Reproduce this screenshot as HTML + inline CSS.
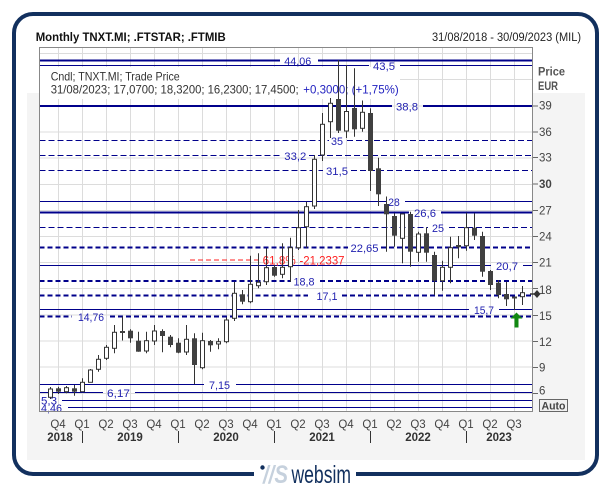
<!DOCTYPE html>
<html><head><meta charset="utf-8">
<style>
html,body{margin:0;padding:0;background:#fff;}
body{width:612px;height:488px;overflow:hidden;}
svg{display:block;font-family:"Liberation Sans",Arial,sans-serif;}
</style></head>
<body>
<svg width="612" height="488" viewBox="0 0 612 488" xmlns="http://www.w3.org/2000/svg">
<!-- frame -->
<rect x="0" y="0" width="612" height="488" fill="#fff"/>
<rect x="27" y="93" width="558" height="367" fill="#f4f4f4"/>
<rect x="14" y="14" width="583" height="460" rx="19" ry="19" fill="none" stroke="#12305e" stroke-width="4"/>
<rect x="254" y="468" width="102" height="12" fill="#fff"/>
<!-- logo -->
<circle cx="262.5" cy="467.5" r="2.2" fill="#12305e"/>
<text x="263" y="483" font-size="25" font-style="italic" font-weight="bold" fill="#c6d1dd" textLength="25" lengthAdjust="spacingAndGlyphs">//S</text>
<text x="291.5" y="483" font-size="25" fill="#12305e" textLength="59.5" lengthAdjust="spacingAndGlyphs">websim</text>

<!-- title -->
<text x="35.7" y="41" font-size="11.5" font-weight="bold" fill="#111" textLength="190" lengthAdjust="spacingAndGlyphs">Monthly TNXT.MI; .FTSTAR; .FTMIB</text>
<text x="432" y="41" font-size="11.5" fill="#222" textLength="149" lengthAdjust="spacingAndGlyphs">31/08/2018 - 30/09/2023 (MIL)</text>

<!-- plot background -->
<rect x="39.5" y="47.5" width="493" height="364" fill="#fff"/>
<!-- grid -->
<g stroke="#dcdcdc" stroke-width="1">
<line x1="58.5" y1="48" x2="58.5" y2="411"/><line x1="82.5" y1="48" x2="82.5" y2="411"/><line x1="106.5" y1="48" x2="106.5" y2="411"/><line x1="130.5" y1="48" x2="130.5" y2="411"/><line x1="154.5" y1="48" x2="154.5" y2="411"/><line x1="178.5" y1="48" x2="178.5" y2="411"/><line x1="202.5" y1="48" x2="202.5" y2="411"/><line x1="226.5" y1="48" x2="226.5" y2="411"/><line x1="250.5" y1="48" x2="250.5" y2="411"/><line x1="274.5" y1="48" x2="274.5" y2="411"/><line x1="298.5" y1="48" x2="298.5" y2="411"/><line x1="322.5" y1="48" x2="322.5" y2="411"/><line x1="346.5" y1="48" x2="346.5" y2="411"/><line x1="370.5" y1="48" x2="370.5" y2="411"/><line x1="394.5" y1="48" x2="394.5" y2="411"/><line x1="418.5" y1="48" x2="418.5" y2="411"/><line x1="442.5" y1="48" x2="442.5" y2="411"/><line x1="466.5" y1="48" x2="466.5" y2="411"/><line x1="490.5" y1="48" x2="490.5" y2="411"/><line x1="514.5" y1="48" x2="514.5" y2="411"/>
<line x1="40" y1="53.5" x2="532" y2="53.5"/><line x1="40" y1="79.5" x2="532" y2="79.5"/><line x1="40" y1="106" x2="532" y2="106"/><line x1="40" y1="132" x2="532" y2="132"/><line x1="40" y1="158" x2="532" y2="158"/><line x1="40" y1="184.5" x2="532" y2="184.5"/><line x1="40" y1="210.5" x2="532" y2="210.5"/><line x1="40" y1="236.5" x2="532" y2="236.5"/><line x1="40" y1="262.5" x2="532" y2="262.5"/><line x1="40" y1="288.5" x2="532" y2="288.5"/><line x1="40" y1="315" x2="532" y2="315"/><line x1="40" y1="341" x2="532" y2="341"/><line x1="40" y1="367" x2="532" y2="367"/><line x1="40" y1="393.5" x2="532" y2="393.5"/>
</g>
<!-- legend box -->
<rect x="40" y="67" width="360" height="32" fill="#fff"/>

<!-- level lines -->
<g stroke="#00008b" fill="none">
<path d="M39.5 60.5H280M318 60.5H532.5" stroke-width="2"/>
<path d="M39.5 65.5H369M400 65.5H532.5" stroke-width="1"/>
<path d="M39.5 106H392M423 106H532.5" stroke-width="2"/>
<path d="M39.5 140.5H329M347 140.5H532.5" stroke-width="1" stroke-dasharray="6,3"/>
<path d="M39.5 155.5H280M309 155.5H532.5" stroke-width="1" stroke-dasharray="6,3"/>
<path d="M39.5 170.5H323M351 170.5H532.5" stroke-width="1" stroke-dasharray="6,3"/>
<path d="M39.5 201.5H386M405 201.5H532.5" stroke-width="1"/>
<path d="M39.5 212.5H409M441 212.5H532.5" stroke-width="2"/>
<path d="M39.5 227.5H428M449 227.5H532.5" stroke-width="1" stroke-dasharray="6,3"/>
<path d="M39.5 247.5H348M381 247.5H532.5" stroke-width="2" stroke-dasharray="5,3"/>
<path d="M39.5 265.5H491M523 265.5H532.5" stroke-width="1"/>
<path d="M39.5 281H291M320 281H532.5" stroke-width="2" stroke-dasharray="5,3"/>
<path d="M39.5 295.5H308M342 295.5H532.5" stroke-width="2" stroke-dasharray="5,3"/>
<path d="M39.5 309.5H469M499 309.5H532.5" stroke-width="1"/>
<path d="M39.5 316.5H72M110 316.5H532.5" stroke-width="2" stroke-dasharray="5,3"/>
<path d="M39.5 384.5H204M236 384.5H532.5" stroke-width="1"/>
<path d="M39.5 392.5H103M135 392.5H532.5" stroke-width="1"/>
<path d="M62 400.5H532.5" stroke-width="1"/>
<path d="M68 407.5H532.5" stroke-width="1"/>
</g>
<path d="M190 260H262" stroke="#ff2020" stroke-width="1" stroke-dasharray="5,3" fill="none"/>

<!-- level labels -->
<g font-size="11" fill="#2222b0">
<text x="284.3" y="65" textLength="27" lengthAdjust="spacingAndGlyphs">44,06</text>
<text x="373" y="70" textLength="22" lengthAdjust="spacingAndGlyphs">43,5</text>
<text x="396" y="110.5" textLength="22" lengthAdjust="spacingAndGlyphs">38,8</text>
<text x="331" y="145" textLength="12" lengthAdjust="spacingAndGlyphs">35</text>
<text x="284.3" y="160" textLength="22" lengthAdjust="spacingAndGlyphs">33,2</text>
<text x="326" y="175" textLength="22" lengthAdjust="spacingAndGlyphs">31,5</text>
<text x="388.3" y="206" textLength="11.5" lengthAdjust="spacingAndGlyphs">28</text>
<text x="414" y="217" textLength="22" lengthAdjust="spacingAndGlyphs">26,6</text>
<text x="432" y="232" textLength="12" lengthAdjust="spacingAndGlyphs">25</text>
<text x="350.5" y="252" textLength="28" lengthAdjust="spacingAndGlyphs">22,65</text>
<text x="496" y="270" textLength="22" lengthAdjust="spacingAndGlyphs">20,7</text>
<text x="293.5" y="285.5" textLength="21" lengthAdjust="spacingAndGlyphs">18,8</text>
<text x="316.5" y="300" textLength="21" lengthAdjust="spacingAndGlyphs">17,1</text>
<text x="474" y="314" textLength="20" lengthAdjust="spacingAndGlyphs">15,7</text>
<text x="78" y="321" textLength="26" lengthAdjust="spacingAndGlyphs">14,76</text>
<text x="209" y="389" textLength="21" lengthAdjust="spacingAndGlyphs">7,15</text>
<text x="107" y="397" textLength="23" lengthAdjust="spacingAndGlyphs">6,17</text>
<text x="41" y="404.5" textLength="16" lengthAdjust="spacingAndGlyphs">5,3</text>
<text x="41" y="412" textLength="21" lengthAdjust="spacingAndGlyphs">4,46</text>
</g>
<g font-size="11.5" fill="#ff2020">
<text x="262.7" y="264.5" textLength="33" lengthAdjust="spacingAndGlyphs">61,8%</text>
<text x="299.5" y="264.5" textLength="45" lengthAdjust="spacingAndGlyphs">-21,2337</text>
</g>

<!-- legend -->
<text x="50.7" y="80.5" font-size="12" fill="#333" textLength="129" lengthAdjust="spacingAndGlyphs">Cndl; TNXT.MI; Trade Price</text>
<text x="50.7" y="93.5" font-size="12" fill="#333" textLength="248" lengthAdjust="spacingAndGlyphs">31/08/2023; 17,0700; 18,3200; 16,2300; 17,4500;</text>
<text x="303.3" y="93.5" font-size="12" fill="#2222c0" textLength="95.4" lengthAdjust="spacingAndGlyphs">+0,3000; (+1,75%)</text>

<!-- candles -->
<g stroke="#333" stroke-width="1">
<line x1="50.5" y1="387" x2="50.5" y2="399"/><rect x="48.5" y="389" width="4" height="8.3" fill="#fff"/>
<line x1="58.5" y1="386.7" x2="58.5" y2="394"/><rect x="56" y="388.3" width="5" height="3.4" fill="#404040" stroke="none"/>
<line x1="66.5" y1="386" x2="66.5" y2="393.3"/><rect x="64.5" y="387.7" width="4" height="4" fill="#fff"/>
<line x1="74.5" y1="385" x2="74.5" y2="395.7"/><rect x="72" y="388.3" width="5" height="3.4" fill="#404040" stroke="none"/>
<line x1="82.5" y1="378.3" x2="82.5" y2="391.7"/><rect x="80.5" y="382.3" width="4" height="9.4" fill="#fff"/>
<line x1="90.5" y1="369" x2="90.5" y2="382.3"/><rect x="88.5" y="370" width="4" height="12.3" fill="#fff"/>
<line x1="98.5" y1="355" x2="98.5" y2="371.7"/><rect x="96.5" y="359.3" width="4" height="10" fill="#fff"/>
<line x1="106.5" y1="345" x2="106.5" y2="360"/><rect x="104.5" y="347.3" width="4" height="11" fill="#fff"/>
<line x1="114.5" y1="325" x2="114.5" y2="353.3"/><rect x="112.5" y="332.3" width="4" height="16" fill="#fff"/>
<line x1="122.5" y1="316.5" x2="122.5" y2="340.5"/><rect x="120" y="331" width="5" height="2" fill="#404040" stroke="none"/>
<line x1="130.5" y1="329.3" x2="130.5" y2="342.7"/><rect x="128" y="330.7" width="5" height="7.6" fill="#404040" stroke="none"/>
<line x1="138.5" y1="331.7" x2="138.5" y2="351.7"/><rect x="136" y="340.7" width="5" height="11" fill="#404040" stroke="none"/>
<line x1="146.5" y1="331.7" x2="146.5" y2="353.3"/><rect x="144.5" y="340.7" width="4" height="10.3" fill="#fff"/>
<line x1="154.5" y1="325" x2="154.5" y2="345"/><rect x="152.5" y="331" width="4" height="10" fill="#fff"/>
<line x1="162.5" y1="329.3" x2="162.5" y2="352.3"/><rect x="160" y="331" width="5" height="5" fill="#404040" stroke="none"/>
<line x1="170.5" y1="335" x2="170.5" y2="347.3"/><rect x="168" y="336.7" width="5" height="8.3" fill="#404040" stroke="none"/>
<line x1="178.5" y1="338.3" x2="178.5" y2="353.3"/><rect x="176" y="342.7" width="5" height="10" fill="#404040" stroke="none"/>
<line x1="186.5" y1="325" x2="186.5" y2="355"/><rect x="184.5" y="339.3" width="4" height="12.7" fill="#fff"/>
<line x1="194.5" y1="333.3" x2="194.5" y2="384.3"/><rect x="192" y="338.3" width="5" height="26.7" fill="#404040" stroke="none"/>
<line x1="202.5" y1="332.7" x2="202.5" y2="369.3"/><rect x="200.5" y="340.7" width="4" height="27" fill="#fff"/>
<line x1="210.5" y1="340" x2="210.5" y2="351.7"/><rect x="208" y="341" width="5" height="4.3" fill="#404040" stroke="none"/>
<line x1="218.5" y1="338.3" x2="218.5" y2="349.3"/><rect x="216.5" y="341.7" width="4" height="2.3" fill="#fff"/>
<line x1="226.5" y1="317.3" x2="226.5" y2="343.3"/><rect x="224.5" y="320" width="4" height="21.7" fill="#fff"/>
<line x1="234.5" y1="281.7" x2="234.5" y2="321"/><rect x="232.5" y="293.3" width="4" height="25" fill="#fff"/>
<line x1="242.5" y1="290" x2="242.5" y2="304.3"/><rect x="240" y="294.3" width="5" height="7.4" fill="#404040" stroke="none"/>
<line x1="250.5" y1="255.7" x2="250.5" y2="303.3"/><rect x="248.5" y="284.3" width="4" height="17.4" fill="#fff"/>
<line x1="258.5" y1="253.3" x2="258.5" y2="288.3"/><rect x="256.5" y="282.3" width="4" height="3.4" fill="#fff"/>
<line x1="266.5" y1="248.3" x2="266.5" y2="285"/><rect x="264.5" y="267.7" width="4" height="14" fill="#fff"/>
<line x1="274.5" y1="265" x2="274.5" y2="276.7"/><rect x="272" y="267" width="5" height="8.7" fill="#404040" stroke="none"/>
<line x1="282.5" y1="243.3" x2="282.5" y2="278.3"/><rect x="280.5" y="267.3" width="4" height="7" fill="#fff"/>
<line x1="290.5" y1="237.7" x2="290.5" y2="281.7"/><rect x="288.5" y="247.7" width="4" height="19" fill="#fff"/>
<line x1="298.5" y1="210" x2="298.5" y2="250"/><rect x="296.5" y="227.7" width="4" height="20" fill="#fff"/>
<line x1="306.5" y1="201.7" x2="306.5" y2="247.7"/><rect x="304.5" y="206.7" width="4" height="20" fill="#fff"/>
<line x1="314.5" y1="155" x2="314.5" y2="209"/><rect x="312.5" y="159.3" width="4" height="46.7" fill="#fff"/>
<line x1="322.5" y1="113" x2="322.5" y2="161"/><rect x="320.5" y="124.3" width="4" height="30.7" fill="#fff"/>
<line x1="330.5" y1="98" x2="330.5" y2="138"/><rect x="328.5" y="103.3" width="4" height="18.4" fill="#fff"/>
<line x1="338.5" y1="60" x2="338.5" y2="133"/><rect x="336" y="99" width="5" height="31.7" fill="#404040" stroke="none"/>
<line x1="346.5" y1="65" x2="346.5" y2="138"/><rect x="344.5" y="111.5" width="4" height="19.5" fill="#fff"/>
<line x1="354.5" y1="68.3" x2="354.5" y2="136.7"/><rect x="352" y="108" width="5" height="21.3" fill="#404040" stroke="none"/>
<line x1="362.5" y1="100.5" x2="362.5" y2="131.7"/><rect x="360.5" y="112.3" width="4" height="16" fill="#fff"/>
<line x1="370.5" y1="108.3" x2="370.5" y2="191"/><rect x="368" y="113" width="5" height="58" fill="#404040" stroke="none"/>
<line x1="378.5" y1="157.7" x2="378.5" y2="206"/><rect x="376" y="168.3" width="5" height="26" fill="#404040" stroke="none"/>
<line x1="386.5" y1="196.5" x2="386.5" y2="251.7"/><rect x="384" y="204" width="5" height="10.3" fill="#404040" stroke="none"/>
<line x1="394.5" y1="213.3" x2="394.5" y2="246.7"/><rect x="392" y="216" width="5" height="19.7" fill="#404040" stroke="none"/>
<line x1="402.5" y1="213.3" x2="402.5" y2="263.3"/><rect x="400.5" y="214" width="4" height="24.3" fill="#fff"/>
<line x1="410.5" y1="211.7" x2="410.5" y2="266.7"/><rect x="408" y="214" width="5" height="37.7" fill="#404040" stroke="none"/>
<line x1="418.5" y1="231.7" x2="418.5" y2="261.7"/><rect x="416.5" y="234" width="4" height="18.3" fill="#fff"/>
<line x1="426.5" y1="227.3" x2="426.5" y2="261.7"/><rect x="424" y="233.3" width="5" height="19.4" fill="#404040" stroke="none"/>
<line x1="434.5" y1="251.7" x2="434.5" y2="295"/><rect x="432" y="255" width="5" height="25.7" fill="#404040" stroke="none"/>
<line x1="442.5" y1="260.7" x2="442.5" y2="290.7"/><rect x="440.5" y="267.3" width="4" height="13.4" fill="#fff"/>
<line x1="450.5" y1="236.7" x2="450.5" y2="283.3"/><rect x="448.5" y="247.7" width="4" height="19.6" fill="#fff"/>
<line x1="458.5" y1="236" x2="458.5" y2="258.3"/><rect x="456" y="245" width="5" height="2.3" fill="#404040" stroke="none"/>
<line x1="466.5" y1="212.7" x2="466.5" y2="250.7"/><rect x="464.5" y="227.7" width="4" height="18" fill="#fff"/>
<line x1="474.5" y1="213.3" x2="474.5" y2="240"/><rect x="472" y="227.7" width="5" height="8" fill="#404040" stroke="none"/>
<line x1="482.5" y1="231.7" x2="482.5" y2="276.7"/><rect x="480" y="236" width="5" height="35.7" fill="#404040" stroke="none"/>
<line x1="490.5" y1="270" x2="490.5" y2="290"/><rect x="488" y="271" width="5" height="14" fill="#404040" stroke="none"/>
<line x1="498.5" y1="280" x2="498.5" y2="298.3"/><rect x="496" y="282.7" width="5" height="12.3" fill="#404040" stroke="none"/>
<line x1="506.5" y1="281.7" x2="506.5" y2="306"/><rect x="504" y="294" width="5" height="5.3" fill="#404040" stroke="none"/>
<line x1="514.5" y1="296.7" x2="514.5" y2="310"/><rect x="512" y="296.5" width="5" height="2" fill="#404040" stroke="none"/>
<line x1="522.5" y1="286" x2="522.5" y2="305"/><rect x="520.5" y="292.7" width="4" height="4" fill="#fff"/>
</g>

<!-- green arrow -->
<path d="M516.5 312.5L522.5 318.5H518.5V327.5H514.5V318.5H510.5Z" fill="#118811"/>

<!-- plot border -->
<rect x="39.5" y="47.5" width="493" height="364" fill="none" stroke="#888" stroke-width="1"/>

<!-- y axis -->
<g stroke="#666" stroke-width="1">
<line x1="533" y1="106" x2="538" y2="106"/><line x1="533" y1="132" x2="538" y2="132"/><line x1="533" y1="157.5" x2="538" y2="157.5"/><line x1="533" y1="184" x2="538" y2="184"/><line x1="533" y1="210.5" x2="538" y2="210.5"/><line x1="533" y1="236.5" x2="538" y2="236.5"/><line x1="533" y1="262.5" x2="538" y2="262.5"/><line x1="533" y1="288.5" x2="538" y2="288.5"/><line x1="533" y1="315.5" x2="538" y2="315.5"/><line x1="533" y1="341.5" x2="538" y2="341.5"/><line x1="533" y1="367.5" x2="538" y2="367.5"/><line x1="533" y1="393.5" x2="538" y2="393.5"/>
</g>
<g font-size="11.5" fill="#444">
<text x="539" y="109.5">39</text>
<text x="539" y="136">36</text>
<text x="539" y="161.5">33</text>
<text x="539" y="188" font-weight="bold">30</text>
<text x="539" y="214.7">27</text>
<text x="539" y="240.7">24</text>
<text x="539" y="266.7">21</text>
<text x="539" y="294">18</text>
<text x="539" y="320">15</text>
<text x="539" y="346">12</text>
<text x="539" y="371.7">9</text>
<text x="539" y="394.7">6</text>
</g>
<text x="538" y="75.5" font-size="11.5" font-weight="bold" fill="#555" textLength="27" lengthAdjust="spacingAndGlyphs">Price</text>
<text x="538" y="90" font-size="11.5" font-weight="bold" fill="#555" textLength="20" lengthAdjust="spacingAndGlyphs">EUR</text>
<!-- last price marker -->
<line x1="530" y1="294" x2="536" y2="294" stroke="#333" stroke-width="1.5"/>
<path d="M537 290L540.5 294L537 298L533.5 294Z" fill="#333"/>
<!-- Auto box -->
<rect x="539.5" y="399.5" width="28" height="12" fill="#f0f0f0" stroke="#666" stroke-width="1"/>
<text x="541.5" y="409.5" font-size="11" font-weight="bold" fill="#444" textLength="24" lengthAdjust="spacingAndGlyphs">Auto</text>

<!-- x axis -->
<g font-size="11.5" fill="#444" text-anchor="middle">
<text x="58" y="428">Q4</text><text x="82" y="428">Q1</text><text x="106" y="428">Q2</text><text x="130" y="428">Q3</text><text x="154" y="428">Q4</text><text x="178" y="428">Q1</text><text x="202" y="428">Q2</text><text x="226" y="428">Q3</text><text x="250" y="428">Q4</text><text x="274" y="428">Q1</text><text x="298" y="428">Q2</text><text x="322" y="428">Q3</text><text x="346" y="428">Q4</text><text x="370" y="428">Q1</text><text x="394" y="428">Q2</text><text x="418" y="428">Q3</text><text x="442" y="428">Q4</text><text x="466" y="428">Q1</text><text x="490" y="428">Q2</text><text x="514" y="428">Q3</text>
</g>
<g font-size="11.5" font-weight="bold" fill="#333" text-anchor="middle">
<text x="60" y="441">2018</text><text x="130" y="441">2019</text><text x="226" y="441">2020</text><text x="322" y="441">2021</text><text x="418" y="441">2022</text><text x="499" y="441">2023</text>
</g>
<g stroke="#333" stroke-width="1">
<line x1="82.5" y1="431" x2="82.5" y2="443"/><line x1="178.5" y1="431" x2="178.5" y2="443"/><line x1="274.5" y1="431" x2="274.5" y2="443"/><line x1="370.5" y1="431" x2="370.5" y2="443"/><line x1="466.5" y1="431" x2="466.5" y2="443"/>
</g>
</svg>
</body></html>
